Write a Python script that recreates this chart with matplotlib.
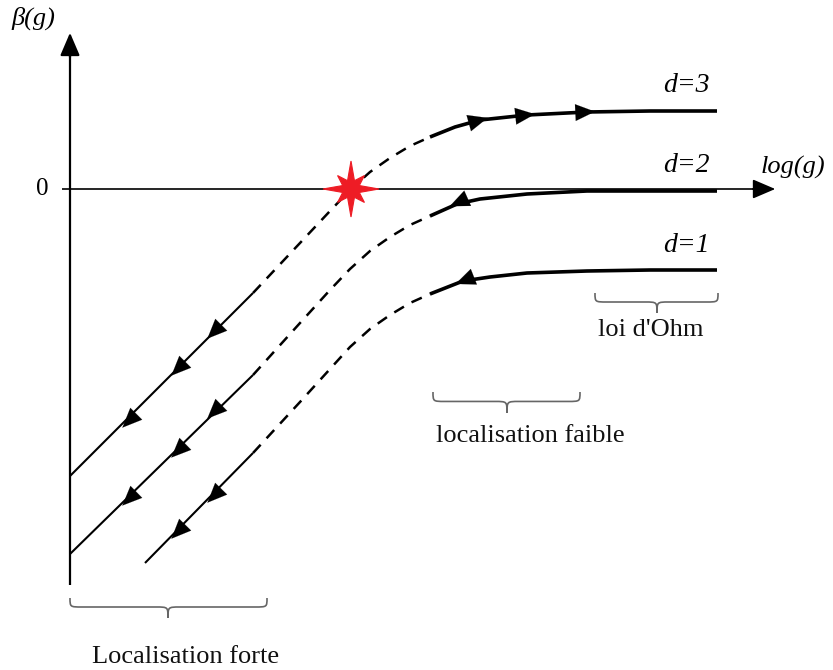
import numpy as np
import matplotlib
matplotlib.use("Agg")
import matplotlib.pyplot as plt
from matplotlib.path import Path
from matplotlib.patches import PathPatch, Polygon, FancyArrowPatch

# ---------------- data (pixel-like schematic coordinates) ----------------
# d = 3
d3_low_x = [70, 253];                    d3_low_y = [476, 293]
d3_dash_x = [253, 300, 330, 350, 370, 390, 410, 430]
d3_dash_y = [293, 243, 211, 190, 172, 158, 146, 137]
d3_up_x = [430, 455, 480, 527, 587, 650, 717]
d3_up_y = [137, 127, 120, 115, 112, 111, 111]
# d = 2
d2_low_x = [70, 253];                    d2_low_y = [554, 375]
d2_dash_x = [253, 300, 330, 350, 370, 390, 410, 430]
d2_dash_y = [375, 323, 290, 269, 251, 237, 225, 216]
d2_up_x = [430, 457, 480, 527, 587, 650, 717]
d2_up_y = [216, 204, 199, 194, 191, 191, 191]
# d = 1
d1_low_x = [145, 253];                   d1_low_y = [563, 453]
d1_dash_x = [253, 300, 330, 350, 370, 390, 410, 430]
d1_dash_y = [453, 402, 369, 347, 329, 315, 303, 294]
d1_up_x = [430, 463, 490, 527, 587, 650, 717]
d1_up_y = [294, 281, 277, 273, 271, 270, 270]

# arrows: (x, y, direction)  direction +1 = toward larger x, -1 = toward smaller x
arrows_d3 = [(213, 333, -1), (177, 370, -1), (128, 422, -1),
             (480, 120, +1), (527, 115, +1), (587, 112, +1)]
arrows_d2 = [(213, 413, -1), (177, 452, -1), (128, 500, -1), (457, 203, -1)]
arrows_d1 = [(213, 497, -1), (177, 533, -1), (463, 281, -1)]

curve_labels = ["d=3", "d=2", "d=1"]
label_pos = [(686, 85), (686, 166), (686, 245)]

fixed_point = (351, 189)

brace_specs = [  # x0, x1, ytop, depth, tip_x
    (70, 267, 598, 20, 168),
    (433, 580, 392, 21, 507),
    (595, 718, 293, 20, 657),
]
brace_texts = ["Localisation forte", "localisation faible", "loi d'Ohm"]
brace_text_pos = [(186, 657), (530, 436), (651, 330)]

# ---------------- figure ----------------
fig = plt.figure(figsize=(8.33, 6.70), dpi=100)
ax = fig.add_axes([0, 0, 1, 1])
ax.set_xlim(0, 833)
ax.set_ylim(670, 0)
ax.axis("off")

serif = ["Liberation Serif", "DejaVu Serif"]

# axes
ax.plot([70, 70], [585, 45], color="k", lw=1.6, solid_capstyle="butt")
ax.add_patch(FancyArrowPatch((70, 60), (70, 30), arrowstyle="-|>,head_length=0.7,head_width=0.3",
                             mutation_scale=20, color="k", lw=1.6))
ax.plot([62, 765], [189, 189], color="k", lw=1.2, solid_capstyle="butt")
ax.add_patch(FancyArrowPatch((750, 189), (778, 189), arrowstyle="-|>,head_length=0.7,head_width=0.3",
                             mutation_scale=20, color="k", lw=1.2))

ax.text(33, 18, "β(g)", fontsize=19, family=serif, style="italic",
        ha="center", va="center", color="k")
ax.text(42, 189, "0", fontsize=18, family=serif, ha="center", va="center")
ax.text(793, 167, "log(g)", fontsize=19, family=serif, style="italic",
        ha="center", va="center")

curves = [
    (d3_low_x, d3_low_y, d3_dash_x, d3_dash_y, d3_up_x, d3_up_y, arrows_d3),
    (d2_low_x, d2_low_y, d2_dash_x, d2_dash_y, d2_up_x, d2_up_y, arrows_d2),
    (d1_low_x, d1_low_y, d1_dash_x, d1_dash_y, d1_up_x, d1_up_y, arrows_d1),
]

for lx, ly, dx, dy, ux, uy, arrs in curves:
    ax.plot(lx, ly, color="k", lw=1.5, solid_capstyle="butt")
    ax.plot(dx, dy, color="k", lw=1.8, dashes=(4.5, 3.5), solid_joinstyle="round")
    ax.plot(ux, uy, color="k", lw=2.6, solid_capstyle="butt", solid_joinstyle="round")
    allx = np.array(list(lx) + list(dx) + list(ux), float)
    ally = np.array(list(ly) + list(dy) + list(uy), float)
    order = np.argsort(allx, kind="stable")
    allx, ally = allx[order], ally[order]
    for (x, y, s) in arrs:
        i = np.searchsorted(allx, x)
        i = min(max(i, 1), len(allx) - 1)
        vx, vy = allx[i] - allx[i - 1], ally[i] - ally[i - 1]
        n = np.hypot(vx, vy)
        vx, vy = s * vx / n, s * vy / n
        tail = (x - 10 * vx, y - 10 * vy)
        tip = (x + 8 * vx, y + 8 * vy)
        ax.add_patch(FancyArrowPatch(tail, tip,
                                     arrowstyle="-|>,head_length=0.7,head_width=0.3",
                                     mutation_scale=20, color="k", lw=0.1,
                                     shrinkA=0, shrinkB=0))

for lab, (x, y) in zip(curve_labels, label_pos):
    ax.text(x, y, lab, fontsize=20, family=serif, style="italic",
            ha="center", va="center")

# red star (fixed point)
cx, cy = fixed_point
angs = np.deg2rad(np.arange(0, 360, 22.5))
radii = []
for k in range(16):
    if k % 4 == 0:
        radii.append(28)
    elif k % 2 == 0:
        radii.append(19)
    else:
        radii.append(9)
pts = [(cx + r * np.sin(a), cy - r * np.cos(a)) for r, a in zip(radii, angs)]
ax.add_patch(Polygon(pts, closed=True, facecolor="#ee1c25", edgecolor="#ee1c25",
                     lw=0.8, zorder=5))


# braces
def brace(x0, x1, y0, h, xm):
    r = min(12, (xm - x0) / 3)
    ym = y0 + h * 0.45
    verts = [
        (x0, y0),
        (x0, ym), (x0, ym), (x0 + r, ym),
        (xm - r, ym),
        (xm, ym), (xm, ym), (xm, y0 + h),
        (xm, ym), (xm, ym), (xm + r, ym),
        (x1 - r, ym),
        (x1, ym), (x1, ym), (x1, y0),
    ]
    codes = [Path.MOVETO,
             Path.CURVE4, Path.CURVE4, Path.CURVE4,
             Path.LINETO,
             Path.CURVE4, Path.CURVE4, Path.CURVE4,
             Path.CURVE4, Path.CURVE4, Path.CURVE4,
             Path.LINETO,
             Path.CURVE4, Path.CURVE4, Path.CURVE4]
    return Path(verts, codes)


for (x0, x1, y0, h, xm), txt, (tx, ty) in zip(brace_specs, brace_texts, brace_text_pos):
    ax.add_patch(PathPatch(brace(x0, x1, y0, h, xm), facecolor="none",
                           edgecolor="#666666", lw=1.2))
    ax.text(tx, ty, txt, fontsize=19, family=serif, ha="center", va="center", color="#111111")

fig.savefig("out.png", dpi=100)
